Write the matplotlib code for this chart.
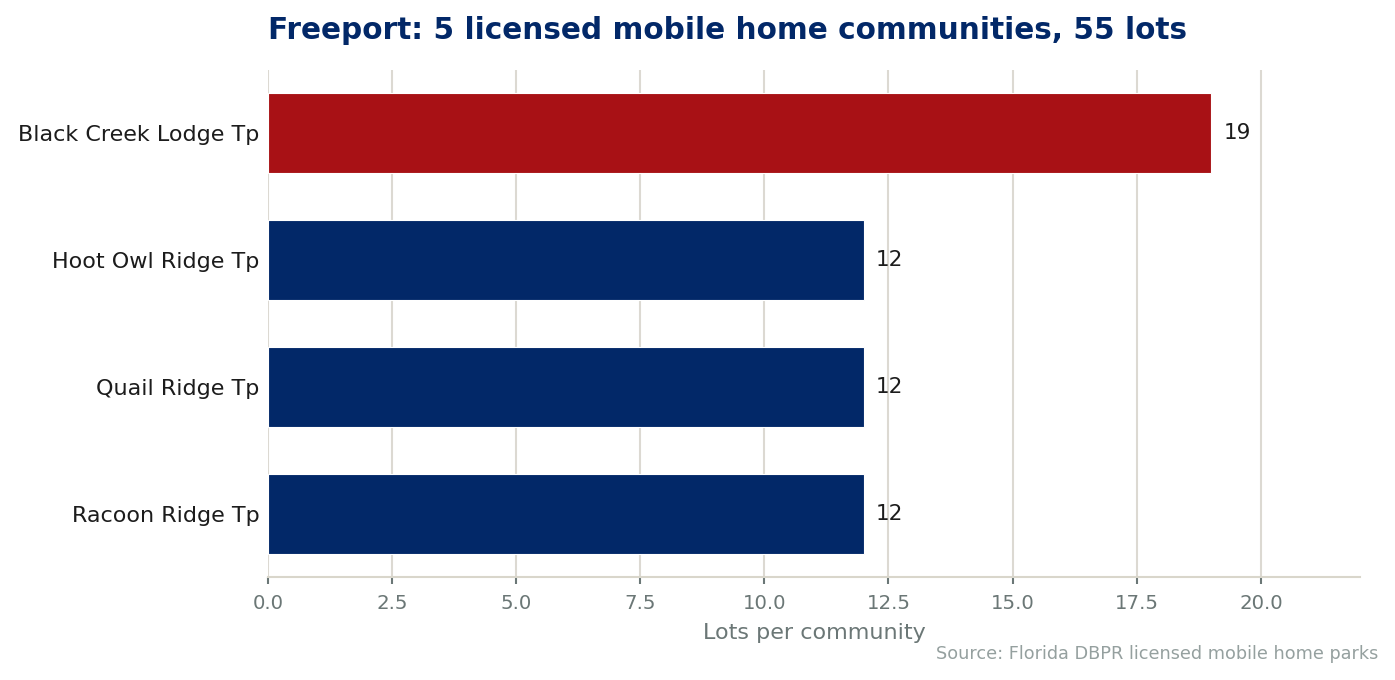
import matplotlib
matplotlib.use("Agg")
import matplotlib.pyplot as plt

communities = ["Black Creek Lodge Tp", "Hoot Owl Ridge Tp", "Quail Ridge Tp", "Racoon Ridge Tp"]
lots = [19, 12, 12, 12]
bar_colors = ["#a81115", "#022868", "#022868", "#022868"]

fig = plt.figure(figsize=(13.95, 6.8), dpi=100)
ax = fig.add_axes([0.192, 0.151, 0.783, 0.746])

ypos = list(range(len(communities)))[::-1]
ax.barh(ypos, lots, height=0.63, color=bar_colors, edgecolor="white", linewidth=0.8, zorder=3)
for y, v in zip(ypos, lots):
    ax.text(v + 0.25, y, str(v), va="center", ha="left", fontsize=15.5, color="#1c1c1c")

ax.set_yticks(ypos)
ax.set_yticklabels(communities, fontsize=16, color="#1c1c1c")
ax.tick_params(axis="y", length=0, pad=6)
ax.set_xlim(0, 22)
ax.set_xticks([0, 2.5, 5, 7.5, 10, 12.5, 15, 17.5, 20])
ax.set_xticklabels(["0.0", "2.5", "5.0", "7.5", "10.0", "12.5", "15.0", "17.5", "20.0"])
ax.tick_params(axis="x", labelsize=14.2, colors="#6b7776", length=5, width=1.5, pad=7)
ax.xaxis.grid(True, color="#dcd9d2", linewidth=1.5, zorder=0)
ax.set_axisbelow(True)
for s in ["top", "right", "left"]:
    ax.spines[s].set_visible(False)
ax.spines["bottom"].set_color("#d9d6cb")
ax.spines["bottom"].set_linewidth(1.5)

ax.set_xlabel("Lots per community", fontsize=16, color="#6b7776", labelpad=7)
fig.text(0.192, 0.955, "Freeport: 5 licensed mobile home communities, 55 lots",
         fontsize=21.3, fontweight="bold", color="#022868", ha="left", va="center")
fig.text(0.988, 0.038, "Source: Florida DBPR licensed mobile home parks",
         fontsize=12.7, color="#95a09f", ha="right", va="center")

fig.savefig("out.png", dpi=100)
